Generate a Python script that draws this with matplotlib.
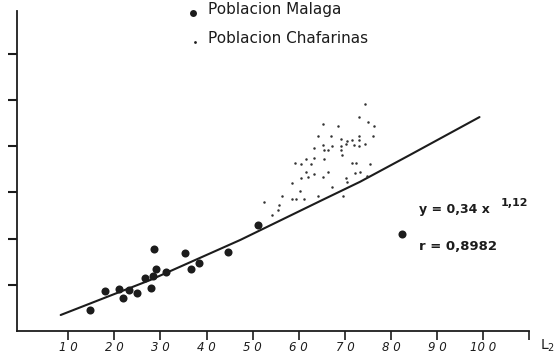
import matplotlib
matplotlib.use("Agg")
import matplotlib.pyplot as plt

# Data (y in arbitrary units, ticks every 10)
malaga_x = [14.7, 18.0, 21.0, 21.9, 23.2, 24.8, 26.6, 27.9, 28.6, 29.0, 28.4, 31.3,
            35.3, 36.6, 38.4, 44.7, 51.1, 82.4]
malaga_y = [4.5, 8.7, 9.1, 7.2, 8.9, 8.3, 11.5, 9.2, 17.7, 13.4, 11.8, 12.7,
            16.8, 13.4, 14.8, 17.2, 22.9, 21.0]

chaf_x = [74.3, 73.1, 75.1, 76.4, 65.2, 68.4, 64.2, 67.0, 73.1, 76.2,
          69.2, 70.4, 71.5, 73.1, 65.3, 67.2, 69.2, 70.2, 72.0, 73.1, 74.4,
          63.2, 65.4, 66.4, 69.2, 69.3, 63.4, 61.5, 65.4, 59.1, 60.4, 62.6, 71.5, 72.4, 75.5,
          61.5, 63.3, 66.4, 72.3, 73.3, 60.5, 62.1, 65.3, 70.3, 74.7,
          58.5, 70.5, 67.2, 60.3, 56.4, 58.5, 59.4, 61.2, 64.2, 69.5, 52.5, 55.6, 55.5, 54.2]
chaf_y = [49.2, 46.3, 45.2, 44.4, 44.9, 44.3, 42.3, 42.2, 42.2, 42.2,
          41.5, 41.2, 41.4, 41.4, 40.2, 40.1, 40.1, 40.4, 40.3, 40.1, 40.4,
          39.7, 39.1, 39.1, 39.1, 38.0, 37.4, 37.2, 37.2, 36.4, 36.2, 36.2, 36.4, 36.4, 36.2,
          34.4, 34.0, 34.4, 34.3, 34.4, 33.2, 33.3, 33.3, 33.1, 33.5,
          32.1, 32.2, 31.1, 30.2, 29.2, 28.5, 28.5, 28.5, 29.3, 29.2, 27.9, 27.3, 26.2, 25.1]

curve_x = [8.35, 27.7, 47.3, 65.2, 73.3, 84.1, 99.2]
curve_y = [3.46, 11.0, 19.7, 28.4, 32.3, 38.1, 46.3]

xtick_vals = [10, 20, 30, 40, 50, 60, 70, 80, 90, 100, 110]
xtick_labels = ["1 0", "2 0", "3 0", "4 0", "5 0", "6 0", "7 0", "8 0", "9 0", "10 0", ""]
ytick_vals = [10, 20, 30, 40, 50, 60]

ink = "#1c1c1c"

fig = plt.figure(figsize=(5.55, 3.6), dpi=100)
ax = fig.add_axes([0.03117, 0.0806, 0.9225, 0.8897])
ax.set_xlim(-1.06, 110)
ax.set_ylim(0, 69.33)

ax.plot(curve_x, curve_y, color=ink, lw=1.5, solid_capstyle="round")
ax.plot(malaga_x, malaga_y, "o", color=ink, markersize=5.8, markeredgewidth=0)
ax.plot(chaf_x, chaf_y, "o", color="#333333", markersize=1.8, markeredgewidth=0)

for s in ["top", "right"]:
    ax.spines[s].set_visible(False)
for s in ["left", "bottom"]:
    ax.spines[s].set_linewidth(1.3)
    ax.spines[s].set_color(ink)

ax.set_xticks(xtick_vals)
ax.set_xticklabels(xtick_labels, fontstyle="italic", fontsize=8.5, color=ink)
ax.set_yticks(ytick_vals)
ax.set_yticklabels([])
ax.tick_params(axis="x", direction="out", length=6.5, width=1.2, pad=0.8, colors=ink)
ax.tick_params(axis="y", direction="out", length=6.5, width=1.5, colors=ink)

# Legend-like annotations
ax.plot([37.1], [68.8], "o", color=ink, markersize=5, markeredgewidth=0, clip_on=False)
ax.text(40.3, 69.5, "Poblacion Malaga", fontsize=11, va="center", ha="left", color=ink)
ax.plot([37.5], [62.6], "o", color=ink, markersize=2, markeredgewidth=0, clip_on=False)
ax.text(40.3, 63.4, "Poblacion Chafarinas", fontsize=11, va="center", ha="left", color=ink)

# Equation
ax.text(86.1, 26.4, "y = 0,34 x", fontsize=9, fontweight="bold", va="center", ha="left", color=ink)
ax.text(103.9, 27.8, "1,12", fontsize=8, fontweight="bold", va="center", ha="left", color=ink)
ax.text(86.1, 18.2, "r = 0,8982", fontsize=9.5, fontweight="bold", va="center", ha="left", color=ink)

# Axis label
ax.text(112.3, -3.3, r"L$_2$", fontsize=10, va="center", ha="left", color=ink, clip_on=False)

fig.savefig("out.png", dpi=100)
